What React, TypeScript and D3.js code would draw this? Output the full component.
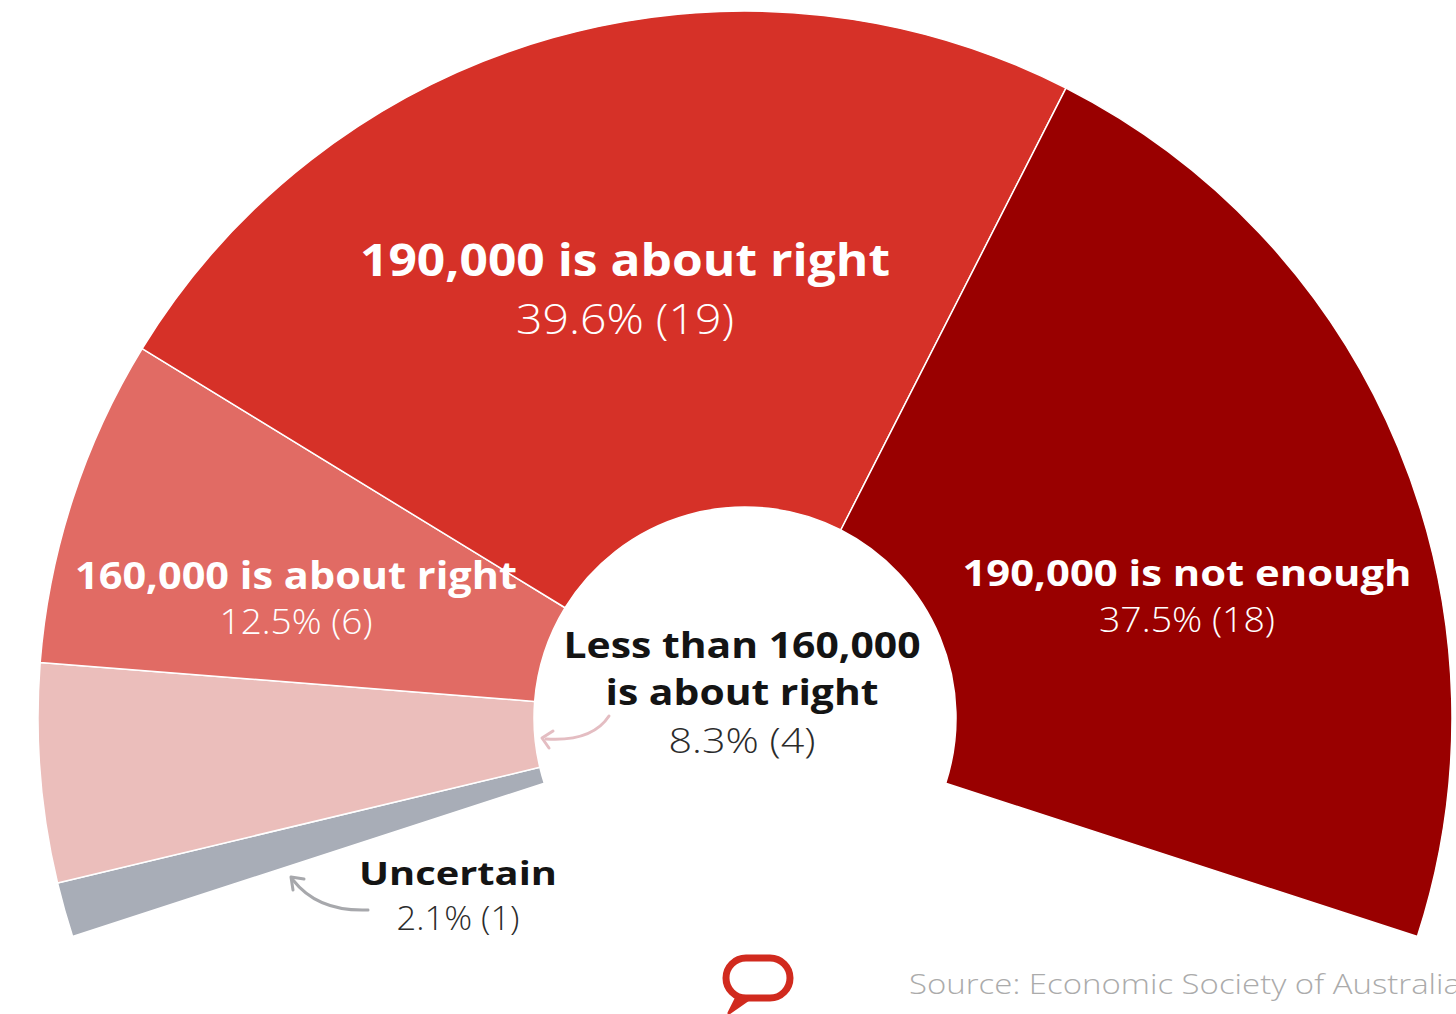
import React from 'react';
import * as d3 from 'd3';

// ---- data ----
const categories = [
  'Uncertain',
  'Less than 160,000 is about right',
  '160,000 is about right',
  '190,000 is about right',
  '190,000 is not enough',
];
const counts = [1, 4, 6, 19, 18];
const percents = [2.1, 8.3, 12.5, 39.6, 37.5];
const titleLines = [
  ['Uncertain'],
  ['Less than 160,000', 'is about right'],
  ['160,000 is about right'],
  ['190,000 is about right'],
  ['190,000 is not enough'],
];
const sourceText = 'Source: Economic Society of Australia';

// ---- style / layout ----
const fills = ['#A8ADB7', '#EBBEBB', '#E16B64', '#D63128', '#990000'];
const W = 1456;
const H = 1014;
const CX = 745;
const CY = 718;
const R_OUT = 707;
const R_IN = 211;
const START = (-108 * Math.PI) / 180;
const END = (108 * Math.PI) / 180;

const labelLayout = [
  { x: 458, lines: [{ y: 885, w: 198 }], ts: 33, tc: '#141414', p: { y: 930, w: 123 }, ps: 33, pc: '#2b2b2b' },
  { x: 742, lines: [{ y: 658, w: 357 }, { y: 705, w: 273 }], ts: 35, tc: '#141414', p: { y: 753, w: 147 }, ps: 34, pc: '#2b2b2b' },
  { x: 296, lines: [{ y: 589, w: 442 }], ts: 37, tc: '#ffffff', p: { y: 634, w: 153 }, ps: 34, pc: '#ffffff' },
  { x: 625, lines: [{ y: 276, w: 530 }], ts: 44, tc: '#ffffff', p: { y: 334, w: 218 }, ps: 42, pc: '#ffffff' },
  { x: 1187, lines: [{ y: 586, w: 449 }], ts: 36, tc: '#ffffff', p: { y: 632, w: 176 }, ps: 35, pc: '#ffffff' },
];

const FONT = "'Open Sans', 'Noto Sans', 'DejaVu Sans', sans-serif";

export default function App() {
  const pie = d3
    .pie<number>()
    .sort(null)
    .value((d) => d)
    .startAngle(START)
    .endAngle(END);
  const arcs = pie(counts);
  const arcGen = d3.arc<d3.PieArcDatum<number>>().innerRadius(R_IN).outerRadius(R_OUT);

  return (
    <svg
      width={W}
      height={H}
      viewBox={`0 0 ${W} ${H}`}
      style={{ position: 'absolute', left: 0, top: 0, background: '#fff' }}
    >
      <rect x={0} y={0} width={W} height={H} fill="#fff" />
      <g transform={`translate(${CX},${CY})`}>
        {arcs.map((a, i) => (
          <path
            key={categories[i]}
            d={arcGen(a) || ''}
            fill={fills[i]}
            stroke="#ffffff"
            strokeWidth={1.5}
            strokeLinejoin="round"
          />
        ))}
      </g>

      {/* arrows */}
      <g fill="none" strokeLinecap="round" strokeLinejoin="round">
        <path d="M609,716 Q592,742 546,739" stroke="#E4BDC2" strokeWidth={3} />
        <path d="M553,731 L542,738 L549,748" stroke="#E4BDC2" strokeWidth={3} />
        <path d="M368,910 Q318,912 293,880" stroke="#A7A8AC" strokeWidth={3} />
        <path d="M304,879 L291,877 L293,890" stroke="#A7A8AC" strokeWidth={3} />
      </g>

      {/* labels */}
      {labelLayout.map((l, i) => (
        <g key={'lab' + i} textAnchor="middle" fontFamily={FONT}>
          {titleLines[i].map((t, j) => (
            <text
              key={j}
              x={l.x}
              y={l.lines[j].y}
              fontSize={l.ts}
              fontWeight={700}
              fill={l.tc}
              textLength={l.lines[j].w}
              lengthAdjust="spacingAndGlyphs"
            >
              {t}
            </text>
          ))}
          <text
            x={l.x}
            y={l.p.y}
            fontSize={l.ps}
            fontWeight={300}
            fill={l.pc}
            textLength={l.p.w}
            lengthAdjust="spacingAndGlyphs"
          >
            {`${percents[i]}% (${counts[i]})`}
          </text>
        </g>
      ))}

      {/* logo */}
      <g fill="none" stroke="#D12A1E" strokeWidth={7} strokeLinejoin="round">
        <rect x={726} y={958} width={64} height={40} rx={20} ry={20} />
        <path d="M737,997 L729,1013 L749,999" fill="#D12A1E" strokeWidth={3} />
      </g>

      {/* source */}
      <text
        x={909}
        y={994}
        fontFamily={FONT}
        fontSize={27}
        fontWeight={300}
        fill="#ABABAB"
        textLength={552}
        lengthAdjust="spacingAndGlyphs"
      >
        {sourceText}
      </text>
    </svg>
  );
}
